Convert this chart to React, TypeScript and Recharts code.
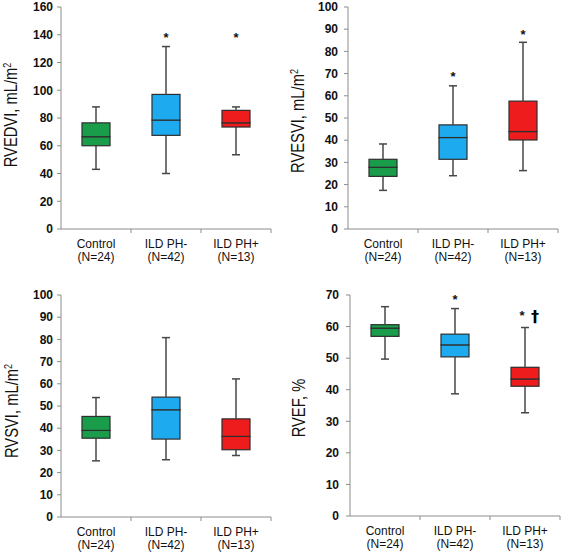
import React from 'react';
import { ComposedChart, Bar, XAxis, YAxis, Scatter, Label } from 'recharts';

const FONT = '"Liberation Sans", Arial, Helvetica, sans-serif';

const categories = ['Control', 'ILD PH-', 'ILD PH+'];
const groupSizes = ['(N=24)', '(N=42)', '(N=13)'];
const boxColors = ['#1a9d4a', '#1eaaee', '#ee1c1c'];

// RVEDVI, mL/m2
const rvedviMin = [43, 40, 53.5];
const rvedviQ1 = [60, 67.5, 73.5];
const rvedviMedian = [66.5, 78.5, 76.5];
const rvedviQ3 = [76.5, 97, 85.5];
const rvedviMax = [88, 131.5, 88];
const rvedviMarks = ['', '*', '*'];
const rvedviMarkY = [null, 140, 140];
const rvedviTicks = [0, 20, 40, 60, 80, 100, 120, 140, 160];

// RVESVI, mL/m2
const rvesviMin = [17.4, 24, 26.3];
const rvesviQ1 = [23.7, 31.4, 40.1];
const rvesviMedian = [27.8, 41.2, 43.9];
const rvesviQ3 = [31.4, 46.9, 57.6];
const rvesviMax = [38.3, 64.5, 84.1];
const rvesviMarks = ['', '*', '*'];
const rvesviMarkY = [null, 70, 88.8];
const rvesviTicks = [0, 10, 20, 30, 40, 50, 60, 70, 80, 90, 100];

// RVSVI, mL/m2
const rvsviMin = [25.3, 25.8, 27.7];
const rvsviQ1 = [35.5, 35.1, 30.3];
const rvsviMedian = [39, 48.3, 36.3];
const rvsviQ3 = [45.3, 54, 44.2];
const rvsviMax = [53.8, 80.8, 62.2];
const rvsviMarks = ['', '', ''];
const rvsviMarkY = [null, null, null];
const rvsviTicks = [0, 10, 20, 30, 40, 50, 60, 70, 80, 90, 100];

// RVEF, %
const rvefMin = [49.7, 38.7, 32.7];
const rvefQ1 = [56.9, 50.4, 41.1];
const rvefMedian = [59.5, 54.2, 43.4];
const rvefQ3 = [60.6, 57.6, 47.1];
const rvefMax = [66.3, 65.7, 59.7];
const rvefMarks = ['', '*', '*†'];
const rvefMarkY = [null, 69.5, 64.2];
const rvefTicks = [0, 10, 20, 30, 40, 50, 60, 70];

function buildRows(min: number[], q1: number[], med: number[], q3: number[], max: number[], markY: (number | null)[], marks: string[]) {
  return categories.map((name, i) => ({
    name,
    base: min[i],
    whiskerLow: q1[i] - min[i],
    boxLow: med[i] - q1[i],
    boxHigh: q3[i] - med[i],
    whiskerHigh: max[i] - q3[i],
    markY: markY[i],
    mark: marks[i],
  }));
}

const AXIS = '#8c8c8c';
const WHISKER = '#474747';
const OUTLINE = '#2e2e2e';

const colorOf = (payload: any) => boxColors[Math.max(0, categories.indexOf(payload?.name))];

const Empty = () => <g />;

const WhiskerLow = (props: any) => {
  const { x, y, width, height } = props;
  const cx = x + width / 2;
  const yb = y + height;
  return (
    <g>
      <line x1={cx} x2={cx} y1={y} y2={yb} stroke={WHISKER} strokeWidth={1.5} />
      <line x1={cx - 4} x2={cx + 4} y1={yb} y2={yb} stroke={WHISKER} strokeWidth={1.5} />
    </g>
  );
};

const WhiskerHigh = (props: any) => {
  const { x, y, width, height } = props;
  const cx = x + width / 2;
  return (
    <g>
      <line x1={cx} x2={cx} y1={y} y2={y + height} stroke={WHISKER} strokeWidth={1.5} />
      <line x1={cx - 4} x2={cx + 4} y1={y} y2={y} stroke={WHISKER} strokeWidth={1.5} />
    </g>
  );
};

const BoxPart = (props: any) => {
  const { x, y, width, height, payload } = props;
  return <rect x={x} y={y} width={width} height={height} fill={colorOf(payload)} stroke={OUTLINE} strokeWidth={1.2} />;
};

const MarkShape = (props: any) => {
  const { cx, cy, payload } = props;
  if (!payload || !payload.mark || cy == null || !isFinite(cy)) return <g />;
  if (payload.mark.includes('†')) {
    return (
      <g>
        <text x={cx - 3} y={cy + 7} textAnchor="middle" fontSize={13} fontWeight="bold" fontFamily={FONT} fill="#111">*</text>
        <text x={cx + 10} y={cy + 9} textAnchor="middle" fontSize={16} fontWeight="bold" fontFamily='"DejaVu Sans", sans-serif' fill="#000">†</text>
      </g>
    );
  }
  return (
    <text x={cx} y={cy + 7} textAnchor="middle" fontSize={13} fontWeight="bold" fontFamily={FONT} fill="#111">*</text>
  );
};

const panels = [
  {
    key: 'rvedvi',
    rows: buildRows(rvedviMin, rvedviQ1, rvedviMedian, rvedviQ3, rvedviMax, rvedviMarkY, rvedviMarks),
    label: 'RVEDVI, mL/m', sup: '2', ticks: rvedviTicks,
    left: 0, top: 0, width: 284, height: 280,
    margin: { top: 7, right: 13, left: 0, bottom: 0 }, yWidth: 61, xHeight: 51, tickMargin: 4,
    labelX: 17, labelY: 115,
  },
  {
    key: 'rvesvi',
    rows: buildRows(rvesviMin, rvesviQ1, rvesviMedian, rvesviQ3, rvesviMax, rvesviMarkY, rvesviMarks),
    label: 'RVESVI, mL/m', sup: '2', ticks: rvesviTicks,
    left: 284, top: 0, width: 283, height: 280,
    margin: { top: 7, right: 9, left: 0, bottom: 0 }, yWidth: 64, xHeight: 51, tickMargin: 6,
    labelX: 20, labelY: 121,
  },
  {
    key: 'rvsvi',
    rows: buildRows(rvsviMin, rvsviQ1, rvsviMedian, rvsviQ3, rvsviMax, rvsviMarkY, rvsviMarks),
    label: 'RVSVI, mL/m', sup: '2', ticks: rvsviTicks,
    left: 0, top: 280, width: 284, height: 279,
    margin: { top: 15, right: 13, left: 0, bottom: 0 }, yWidth: 61, xHeight: 42, tickMargin: 4,
    labelX: 18, labelY: 131,
  },
  {
    key: 'rvef',
    rows: buildRows(rvefMin, rvefQ1, rvefMedian, rvefQ3, rvefMax, rvefMarkY, rvefMarks),
    label: 'RVEF, %', sup: '', ticks: rvefTicks,
    left: 284, top: 280, width: 283, height: 279,
    margin: { top: 15, right: 7, left: 0, bottom: 0 }, yWidth: 66, xHeight: 43, tickMargin: 7,
    labelX: 21, labelY: 128,
  },
];

const makeXTick = (band: number) => (props: any) => {
  const { x, y, payload, index } = props;
  const i = typeof index === 'number' ? index : categories.indexOf(payload?.value);
  return (
    <g>
      <line x1={x + band / 2} x2={x + band / 2} y1={y} y2={y + 4} stroke={AXIS} strokeWidth={1} />
      <text x={x} y={y + 19} textAnchor="middle" fontSize={12} fontFamily={FONT} fill="#111">{payload.value}</text>
      <text x={x} y={y + 32} textAnchor="middle" fontSize={12} fontFamily={FONT} fill="#111">{groupSizes[i]}</text>
    </g>
  );
};

const makeYLabel = (text: string, sup: string, lx: number, ly: number) => () => (
  <text
    transform={`translate(${lx},${ly}) rotate(-90) scale(0.82,1)`}
    x={0}
    y={0}
    textAnchor="middle"
    fontSize={18}
    fontFamily={FONT}
    fill="#111"
  >
    {text}
    {sup ? <tspan fontSize={11} dy={-6}>{sup}</tspan> : null}
  </text>
);

export default function App() {
  return (
    <div style={{ position: 'absolute', left: 0, top: 0, width: 567, height: 559, background: '#fff' }}>
      {panels.map((p) => {
        const plotW = p.width - p.margin.left - p.margin.right - p.yWidth;
        const band = plotW / categories.length;
        const domMax = p.ticks[p.ticks.length - 1];
        return (
          <div key={p.key} style={{ position: 'absolute', left: p.left, top: p.top, width: p.width, height: p.height }}>
            <ComposedChart width={p.width} height={p.height} data={p.rows} margin={p.margin} barCategoryGap={0}>
              <XAxis
                dataKey="name"
                type="category"
                height={p.xHeight}
                interval={0}
                tickLine={false}
                tickSize={0}
                tickMargin={0}
                axisLine={{ stroke: AXIS, strokeWidth: 1 }}
                tick={makeXTick(band)}
              />
              <YAxis
                type="number"
                domain={[0, domMax]}
                ticks={p.ticks}
                interval={0}
                width={p.yWidth}
                tickSize={4}
                tickMargin={p.tickMargin}
                axisLine={{ stroke: AXIS, strokeWidth: 1 }}
                tickLine={{ stroke: AXIS, strokeWidth: 1 }}
                tick={{ fontSize: 12, fontWeight: 'bold', fontFamily: FONT, fill: '#111' }}
                allowDataOverflow
              >
                <Label content={makeYLabel(p.label, p.sup, p.labelX, p.labelY)} />
              </YAxis>
              <Bar dataKey="base" stackId="box" barSize={28} shape={<Empty />} isAnimationActive={false} />
              <Bar dataKey="whiskerLow" stackId="box" barSize={28} shape={<WhiskerLow />} isAnimationActive={false} />
              <Bar dataKey="boxLow" stackId="box" barSize={28} shape={<BoxPart />} isAnimationActive={false} />
              <Bar dataKey="boxHigh" stackId="box" barSize={28} shape={<BoxPart />} isAnimationActive={false} />
              <Bar dataKey="whiskerHigh" stackId="box" barSize={28} shape={<WhiskerHigh />} isAnimationActive={false} />
              <Scatter dataKey="markY" shape={<MarkShape />} isAnimationActive={false} />
            </ComposedChart>
          </div>
        );
      })}
    </div>
  );
}
